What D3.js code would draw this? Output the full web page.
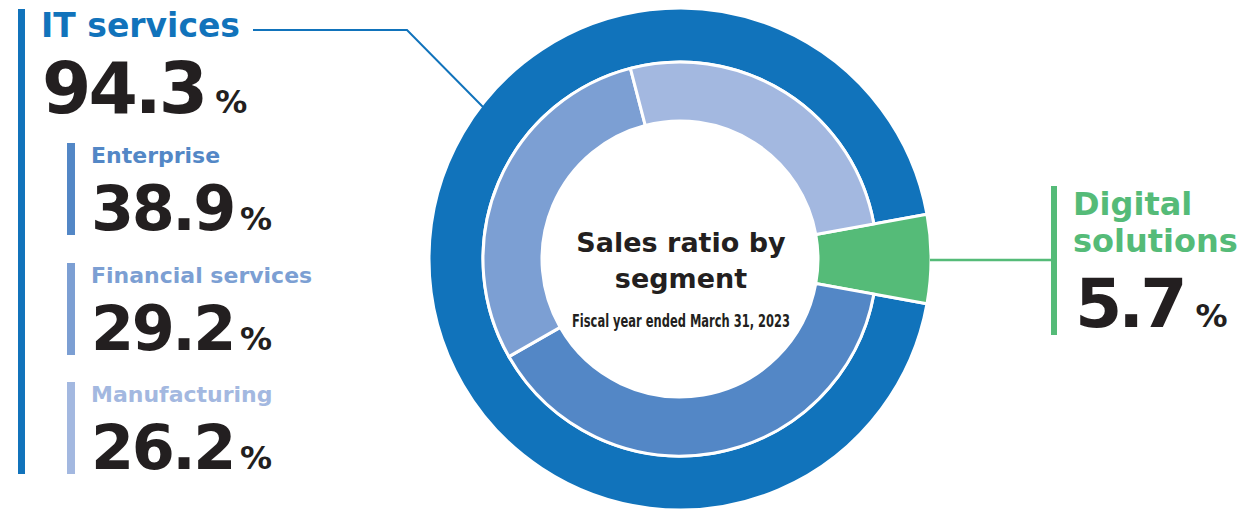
<!DOCTYPE html>
<html>
<head>
<meta charset="utf-8">
<script src="https://cdn.jsdelivr.net/npm/d3@7"></script>
<style>
	body { margin: 0; background: #fff; }
	svg text { font-family: 'DejaVu Sans', Verdana, sans-serif; font-weight: bold; }
</style>
</head>
<body>
<div id="chart"></div>
<script>
// segment shares, fiscal year ended March 31, 2023
const segments = ['Digital solutions', 'Enterprise', 'Financial services', 'Manufacturing'];
const shares = [5.7, 38.9, 29.2, 26.2];
const groups = ['Digital solutions', 'IT services'];
const groupShares = [5.7, 94.3];

const segColors = ['#55bb78', '#5387c6', '#7c9fd3', '#a3b8e0'];
const itColor = '#1173bb';
const ink = '#231f20';

const width = 1244, height = 511;
const cx = 680, cy = 259;
const rHole = 138, rMid = 197, rOut = 251;

const svg = d3.select('#chart').append('svg').attr('width', width).attr('height', height);

// start so the digital slice sits centred on the right
const a0 = Math.PI / 2 - (shares[0] / 100) * Math.PI;
const pie = d3.pie().sort(null).startAngle(a0).endAngle(a0 + 2 * Math.PI);

const ring = svg.append('g').attr('transform', `translate(${cx},${cy})`);

// outer ring: IT services total
const outerArcs = pie(groupShares);
ring.append('path')
	.attr('d', d3.arc().innerRadius(rMid).outerRadius(rOut)(outerArcs[1]))
	.attr('fill', itColor)
	.attr('stroke', '#fff')
	.attr('stroke-width', 3);

// inner ring: sub-segments; digital solutions spans both rings
const innerArcs = pie(shares);
ring.selectAll('.seg')
	.data(innerArcs)
	.enter()
	.append('path')
	.attr('class', 'seg')
	.attr('d', (d, i) => d3.arc().innerRadius(rHole).outerRadius(i === 0 ? rOut : rMid)(d))
	.attr('fill', (d, i) => segColors[i])
	.attr('stroke', '#fff')
	.attr('stroke-width', 3);

// centre title
const title = svg.append('text').attr('text-anchor', 'middle').attr('fill', ink);
title.append('tspan').attr('x', cx + 1).attr('y', 252).style('font-size', '27px').text('Sales ratio by');
title.append('tspan').attr('x', cx + 1).attr('y', 288).style('font-size', '27px').text('segment');
svg.append('text')
	.attr('x', 572).attr('y', 327)
	.attr('fill', ink)
	.attr('textLength', 218)
	.attr('lengthAdjust', 'spacingAndGlyphs')
	.style('font-size', '17px')
	.text('Fiscal year ended March 31, 2023');

// value with small % sign
function value(x, y, size, v, ls, gap) {
	const t = svg.append('text').attr('x', x).attr('y', y).attr('fill', ink);
	t.append('tspan').style('font-size', size + 'px').style('letter-spacing', ls + 'px').text(v);
	t.append('tspan').attr('dx', gap).style('font-size', '32px').style('letter-spacing', '0px').text('%');
}

// left block: IT services
svg.append('rect').attr('x', 18).attr('y', 9).attr('width', 7).attr('height', 465).attr('fill', itColor);
svg.append('text').attr('x', 41).attr('y', 37).attr('fill', itColor).style('font-size', '33px').text(groups[1]);
value(42, 113, 71, groupShares[1].toFixed(1), -3, 10);

svg.append('polyline')
	.attr('points', '253,30 407,30 483,107')
	.attr('fill', 'none')
	.attr('stroke', itColor)
	.attr('stroke-width', 2);

const subTop = [143, 263, 382];
for (let i = 1; i < 4; i++) {
	const y0 = subTop[i - 1];
	svg.append('rect').attr('x', 67).attr('y', y0).attr('width', 8).attr('height', 92).attr('fill', segColors[i]);
	svg.append('text').attr('x', 91).attr('y', y0 + 20).attr('fill', segColors[i]).style('font-size', '22px').text(segments[i]);
	value(91, y0 + 87, 62, shares[i].toFixed(1), -2.5, 6);
}

// right block: Digital solutions
svg.append('line')
	.attr('x1', 930).attr('y1', 260).attr('x2', 1051).attr('y2', 260)
	.attr('stroke', segColors[0]).attr('stroke-width', 2.5);
svg.append('rect').attr('x', 1051).attr('y', 186).attr('width', 6).attr('height', 149).attr('fill', segColors[0]);
const dl = svg.append('text').attr('fill', segColors[0]).style('font-size', '32px');
dl.append('tspan').attr('x', 1073).attr('y', 215).text('Digital');
dl.append('tspan').attr('x', 1073).attr('y', 252).text('solutions');
value(1075, 327, 68, shares[0].toFixed(1), -4, 12);
</script>
</body>
</html>
